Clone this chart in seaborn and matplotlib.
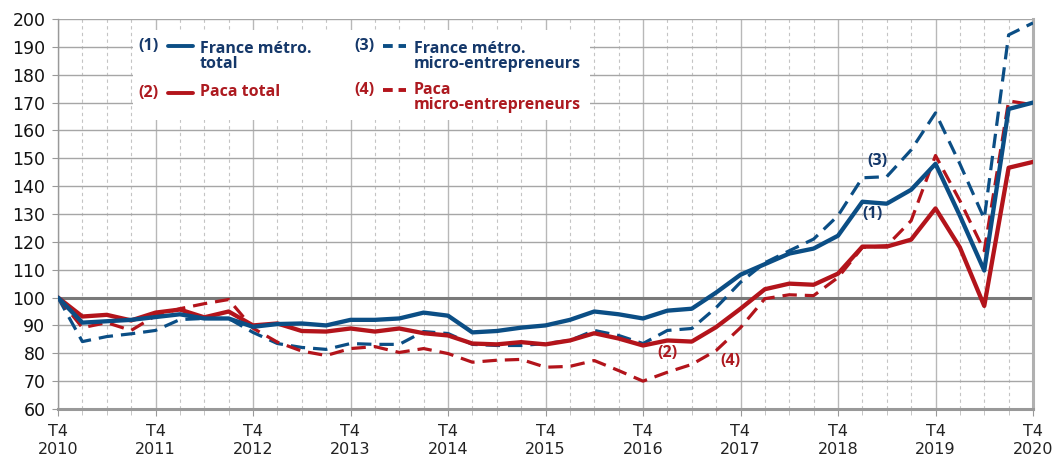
import numpy as np
import pandas as pd
import matplotlib
matplotlib.use("Agg")
import matplotlib.pyplot as plt
import seaborn as sns
from matplotlib.patches import Rectangle
from matplotlib.lines import Line2D

# === Data: index base 100 at T4 2010, quarterly to T4 2020 ===

years = list(range(2010, 2021))
tick_labels = [f"T4\n{y}" for y in years]

france_total = [100, 91, 91.5, 92, 93, 94, 92.5, 92.5, 89.5, 90.5,
                90.7, 90, 92, 92, 92.5, 94.6, 93.5, 87.5, 88, 89.2,
                90, 92, 95, 94, 92.5, 95.3, 96, 101.8, 108.2, 112,
                115.8, 117.6, 122.2, 134.4, 133.7, 138.7, 148, 129.4, 109.7, 167.7,
                170]
paca_total = [100, 93.2, 93.8, 91.8, 94.6, 95.7, 92.9, 95, 90, 90.7,
              88, 87.8, 88.9, 87.8, 88.9, 87.2, 86.4, 83.5, 83.2, 84,
              83.2, 84.6, 87.2, 85.3, 82.8, 84.6, 84.2, 89.4, 96, 103,
              105, 104.6, 108.6, 118.3, 118.3, 120.8, 132, 118, 97, 146.6,
              148.7]
france_micro = [100, 84.2, 86, 87, 88.2, 92.1, 92.5, 92.5, 87.5, 83.5,
                82.1, 81.4, 83.5, 83.2, 83.2, 87.8, 87.1, 83.2, 82.8, 82.8,
                83.5, 84.6, 88.2, 86.4, 83.5, 88.2, 88.9, 96.4, 105.5, 112.5,
                116.8, 121, 129.4, 143, 143.4, 153, 166.3, 148, 128.3, 194.3,
                198.6]
paca_micro = [100, 89.2, 91, 88.2, 93.5, 96, 97.8, 99.3, 89, 84,
              80.8, 79.2, 81.7, 82.4, 80.3, 81.7, 79.9, 76.8, 77.5, 77.8,
              75, 75.3, 77.4, 73.8, 70, 73.2, 76, 81, 89.2, 99.6,
              101, 100.7, 107.2, 118, 118.6, 127.6, 151, 134.8, 116.8, 170.6,
              169.2]

quarter = np.arange(len(france_total))

BLUE = "#0b4e85"
RED = "#b3141b"
NAVY = "#15386a"
RED_TXT = "#ad1a20"

sns.set_style("white")
plt.rcParams["font.family"] = ["Liberation Sans Narrow", "DejaVu Sans"]

fig = plt.figure(figsize=(10.57, 4.59), dpi=100)
ax = fig.add_axes([58 / 1057, 1 - 409 / 459, 975 / 1057, 390 / 459])

# grid
ax.set_ylim(60, 200)
ax.set_xlim(0, 40)
ax.set_yticks(np.arange(60, 201, 10))
ax.set_xticks(np.arange(0, 41, 4))
ax.set_xticks(np.arange(0, 41, 1), minor=True)
ax.grid(axis="y", which="major", color="#a6a6a6", lw=1.0)
ax.grid(axis="x", which="major", color="#b8b8b8", lw=1.0)
ax.grid(axis="x", which="minor", color="#c4c4c4", lw=0.8, ls=(0, (3, 3)))
ax.axhline(100, color="#7a7a7a", lw=2.2, zorder=1.5)

series = [
    (france_micro, BLUE, (0, (4.5, 2.5)), 2.3),
    (paca_micro, RED, (0, (4.5, 2.5)), 2.3),
    (paca_total, RED, "-", 3.1),
    (france_total, BLUE, "-", 3.1),
]
for vals, col, ls, lw in series:
    sns.lineplot(x=quarter, y=vals, ax=ax, color=col, linestyle=ls, lw=lw,
                 zorder=3)

ax.set_xticklabels(tick_labels)
ax.tick_params(axis="x", which="major", length=5, color="#999999", pad=6,
               labelsize=11.5, labelcolor="#222222", bottom=True)
ax.tick_params(axis="x", which="minor", length=4, color="#bbbbbb", bottom=True)
ax.tick_params(axis="y", length=4, color="#999999", pad=5, labelsize=12.5,
               labelcolor="#111111", left=True)
ax.set_xlabel("")
ax.set_ylabel("")

ax.spines["top"].set_visible(False)
ax.spines["left"].set_color("#999999")
ax.spines["left"].set_lw(1.0)
ax.spines["bottom"].set_color("#999999")
ax.spines["bottom"].set_lw(2.2)
ax.spines["right"].set_color("#b0b0b0")
ax.spines["right"].set_lw(2.2)

# === Legend (manual, white box) ===
def axc(px, py):
    return (px - 58) / 975, (409 - py) / 390

x0, y0 = axc(133, 120)
x1, y1 = axc(590, 30)
ax.add_patch(Rectangle((x0, y0), x1 - x0, y1 - y0, transform=ax.transAxes,
                       facecolor="white", edgecolor="none", zorder=4))

lfont = dict(fontsize=11.5, fontweight="bold", family=["Open Sans", "DejaVu Sans"],
             transform=ax.transAxes, zorder=5)
items = [
    ("(1)", 138, 46, 168, 193, "France métro.\ntotal", 200, 41, NAVY, BLUE, "-"),
    ("(2)", 138, 93, 168, 193, "Paca total", 200, 84, RED_TXT, RED, "-"),
    ("(3)", 354, 46, 383, 406, "France métro.\nmicro-entrepreneurs", 414, 41, NAVY, BLUE, "--"),
    ("(4)", 354, 90, 383, 406, "Paca\nmicro-entrepreneurs", 414, 82, RED_TXT, RED, "--"),
]
for num, nx, ny, lx0, lx1, lab, tx, ty, tcol, lcol, lls in items:
    ax.text(*axc(nx, ny), num, color=tcol, ha="left", va="center", **lfont)
    (a0, b0), (a1, _) = axc(lx0, ny), axc(lx1, ny)
    ln = Line2D([a0, a1], [b0, b0], transform=ax.transAxes, color=lcol,
                lw=2.8, zorder=5)
    if lls == "--":
        ln.set_dashes([2.5, 1.5])
    ax.add_line(ln)
    ax.text(*axc(tx, ty), lab, color=tcol, ha="left", va="top",
            linespacing=0.9, **lfont)

# === Series annotations ===
afont = dict(fontsize=11.5, fontweight="bold", family=["Open Sans", "DejaVu Sans"],
             ha="center", va="center", zorder=5)
ax.text(33.6, 149, "(3)", color=NAVY, **afont)
ax.text(33.4, 130, "(1)", color=NAVY, **afont)
ax.text(25.0, 80, "(2)", color=RED_TXT, **afont)
ax.text(27.6, 77.4, "(4)", color=RED_TXT, **afont)

fig.savefig("out.png", dpi=100)
plt.close(fig)
